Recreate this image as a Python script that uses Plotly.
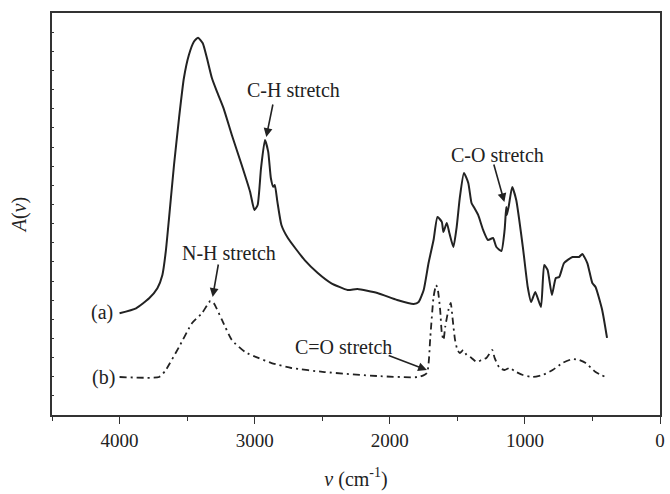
import plotly.graph_objects as go

# Curve (a): wavenumber (cm^-1) and absorbance (arb. units)
wn_a = [4000, 3878, 3781, 3720, 3683, 3658, 3634, 3597, 3560, 3524, 3487, 3450, 3419,
        3384, 3353, 3316, 3279, 3230, 3169, 3096, 3034, 3002, 2978, 2953, 2924, 2900,
        2880, 2863, 2851, 2832, 2802, 2753, 2630, 2533, 2435, 2312, 2239, 2092, 1945,
        1823, 1786, 1749, 1713, 1676, 1647, 1615, 1603, 1578, 1559, 1529, 1505, 1481,
        1451, 1419, 1395, 1378, 1346, 1309, 1273, 1236, 1211, 1174, 1150, 1138, 1133,
        1118, 1094, 1064, 1015, 979, 954, 923, 881, 857, 832, 800, 771, 746, 710, 648,
        599, 575, 538, 501, 477, 428, 392]
abs_a = [1.063, 1.115, 1.219, 1.324, 1.463, 1.706, 2.055, 2.612, 3.100, 3.518, 3.761,
         3.900, 3.942, 3.884, 3.727, 3.518, 3.378, 3.204, 2.926, 2.612, 2.333, 2.142,
         2.194, 2.578, 2.873, 2.751, 2.473, 2.385, 2.403, 2.229, 1.985, 1.846, 1.619,
         1.484, 1.379, 1.306, 1.316, 1.275, 1.202, 1.160, 1.181, 1.306, 1.588, 1.828,
         2.069, 2.017, 1.912, 2.006, 1.902, 1.755, 1.964, 2.278, 2.528, 2.424, 2.215,
         2.173, 2.090, 1.933, 1.828, 1.849, 1.755, 1.714, 1.933, 2.173, 2.090, 2.194,
         2.382, 2.246, 1.755, 1.337, 1.181, 1.285, 1.128, 1.567, 1.515, 1.254, 1.431,
         1.442, 1.588, 1.651, 1.651, 1.682, 1.588, 1.379, 1.337, 1.097, 0.805]

# Curve (b)
wn_b = [4000, 3707, 3658, 3560, 3463, 3389, 3328, 3303, 3242, 3169, 3071, 2973, 2875,
        2729, 2484, 2092, 1786, 1725, 1700, 1676, 1657, 1644, 1627, 1615, 1602, 1590,
        1566, 1549, 1534, 1517, 1499, 1481, 1456, 1431, 1395, 1358, 1321, 1285, 1241,
        1224, 1187, 1150, 1114, 1064, 1015, 942, 868, 795, 722, 648, 599, 550, 477, 404]
abs_b = [0.397, 0.397, 0.470, 0.710, 0.961, 1.066, 1.191, 1.170, 0.993, 0.784, 0.658,
         0.596, 0.543, 0.491, 0.449, 0.407, 0.397, 0.439, 0.815, 1.233, 1.358, 1.306,
         1.097, 0.857, 0.784, 0.919, 1.097, 1.170, 0.993, 0.784, 0.679, 0.648, 0.679,
         0.627, 0.596, 0.554, 0.575, 0.596, 0.679, 0.596, 0.491, 0.470, 0.491, 0.449,
         0.418, 0.397, 0.418, 0.470, 0.543, 0.585, 0.575, 0.543, 0.449, 0.397]

x_ticks = [4000, 3000, 2000, 1000, 0]
x_tick_labels = ["4000", "3000", "2000", "1000", "0"]

FONT = "Liberation Serif, Times New Roman, serif"
INK = "#222222"

fig = go.Figure()
fig.add_trace(go.Scatter(x=wn_a, y=abs_a, mode="lines",
                         line=dict(color=INK, width=2, shape="spline", smoothing=0.5),
                         showlegend=False))
fig.add_trace(go.Scatter(x=wn_b, y=abs_b, mode="lines",
                         line=dict(color=INK, width=1.8, dash="7px,4px,2px,4px",
                                   shape="spline", smoothing=0.5),
                         showlegend=False))

texts = [
    ("C-H stretch", 2716, 3.40),
    ("N-H stretch", 3193, 1.69),
    ("C=O stretch", 2342, 0.71),
    ("C-O stretch", 1204, 2.72),
    ("(a)", 4133, 1.066),
    ("(b)", 4118, 0.397),
]
for t, x, y in texts:
    fig.add_annotation(x=x, y=y, text=t, showarrow=False,
                       font=dict(family=FONT, size=20, color=INK))

arrows = [
    (2914, 2.905, 2863, 3.260),
    (3311, 1.233, 3267, 1.588),
    (1725, 0.470, 2019, 0.627),
    (1152, 2.225, 1233, 2.633),
]
for hx, hy, tx, ty in arrows:
    fig.add_annotation(x=hx, y=hy, ax=tx, ay=ty, axref="x", ayref="y",
                       text="", showarrow=True, arrowhead=2, arrowsize=1.1,
                       arrowwidth=1.6, arrowcolor=INK)

fig.update_layout(
    width=670, height=494,
    margin=dict(l=52, r=5, t=13, b=79),
    paper_bgcolor="white", plot_bgcolor="white",
    font=dict(family=FONT, color=INK),
    xaxis=dict(
        range=[4500, 0], tickvals=x_ticks, ticktext=x_tick_labels,
        ticks="outside", ticklen=7, tickwidth=1.3, tickcolor="#333",
        minor=dict(dtick=500, tick0=0, ticks="outside", ticklen=4, tickwidth=1.3,
                   tickcolor="#333", showgrid=False),
        showline=True, linecolor="#333", linewidth=1.5, mirror=True,
        showgrid=False, zeroline=False,
        tickfont=dict(family=FONT, size=19, color=INK),
        title=dict(text="<i>ν</i> (cm<sup>-1</sup>)",
                   font=dict(family=FONT, size=20, color=INK), standoff=22),
    ),
    yaxis=dict(
        range=[0, 4.2], dtick=0.2, tick0=0, showticklabels=False,
        ticks="inside", ticklen=2, tickwidth=1, tickcolor="#333",
        showline=True, linecolor="#333", linewidth=1.5, mirror=True,
        showgrid=False, zeroline=False,
        title=dict(text="<i>A</i>(<i>ν</i>)",
                   font=dict(family=FONT, size=20, color=INK), standoff=18),
    ),
)

fig.write_html("out.html")
